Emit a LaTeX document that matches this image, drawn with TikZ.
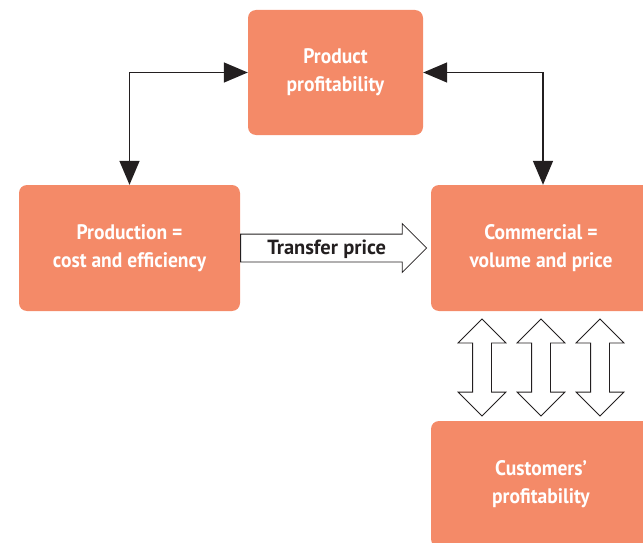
\documentclass[tikz,border=0pt]{standalone}
\usepackage{fontspec}
\setmainfont{PT Sans}
\newfontfamily\boxfont{PT Sans}[FakeStretch=0.93]
\usetikzlibrary{positioning, shapes.arrows, arrows.meta}
\definecolor{boxfill}{RGB}{244,138,104}
\definecolor{ink}{RGB}{35,31,32}

\begin{document}
\begin{tikzpicture}[x=1pt, y=-1pt, >={Triangle[length=24pt,width=20pt]}]
    \tikzstyle{blk} = [rectangle, rounded corners=8pt, fill=boxfill, text=white, align=center, inner sep=0pt,
                       font=\boxfont\bfseries\fontsize{21}{28}\selectfont]
    \tikzstyle{link} = [<->, line width=1.5pt, draw=ink]
    \tikzstyle{sarrow} = [single arrow, draw=ink, line width=0.8pt, fill=white, inner xsep=0pt, inner ysep=0pt,
                          single arrow head extend=10.5pt, single arrow head indent=0pt,
                          text height=19.5pt, text depth=7.5pt, text=ink, font=\bfseries\fontsize{20.5}{22}\selectfont]
    \tikzstyle{darrow} = [double arrow, draw=ink, line width=0.8pt, fill=white, inner sep=9pt,
                          double arrow head extend=14.5pt, double arrow head indent=0pt, rotate=90]

    \useasboundingbox (0,0) rectangle (643,543);

    %% Boxes
    \node [blk, minimum width=175pt, minimum height=125pt] (profit) at (335.5,72.5) {Product\\profitability};
    \node [blk, minimum width=221pt, minimum height=126pt] (prodn) at (129.5,248) {Production =\\cost and efficiency};
    \node [blk, minimum width=220pt, minimum height=126pt] (comm) at (541,248) {Commercial =\\volume and price};
    \node [blk, minimum width=220pt, minimum height=126pt] (cust) at (541,484) {Customers’\\profitability};

    %% Links to product profitability
    \draw [link] (profit.west) -| (prodn.north);
    \draw [link] (profit.east) -| ([xshift=2pt]comm.north);

    %% Transfer price
    \node [sarrow, minimum height=186pt, right=0pt of prodn] (transfer) {Transfer price};

    %% Commercial <-> customers
    \foreach \dx [count=\i] in {-59,0,59}
        \node [darrow, minimum height=97pt] (dbl\i) at (541+\dx,367.5) {};
\end{tikzpicture}
\end{document}
